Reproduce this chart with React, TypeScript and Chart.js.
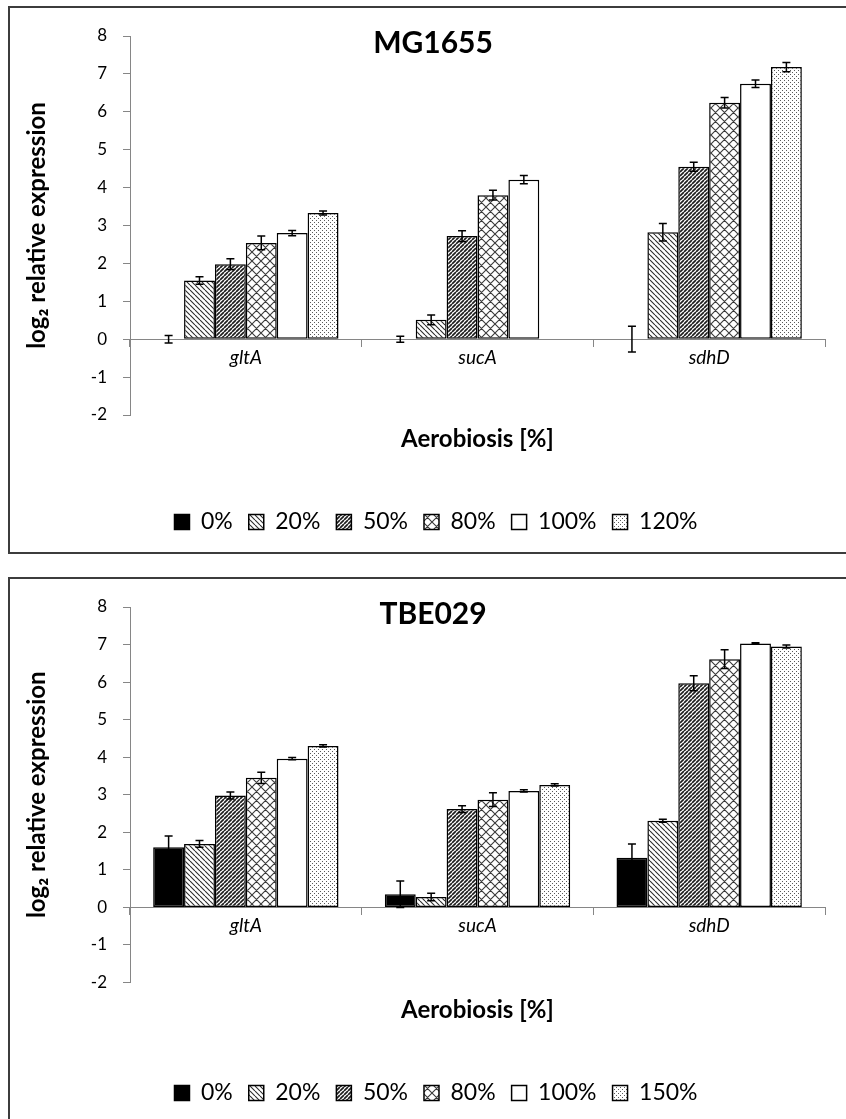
import React, { useEffect, useRef } from 'react';
import { Chart, registerables } from 'chart.js';

Chart.register(...registerables);

// ---------- data ----------
const categories = ['gltA', 'sucA', 'sdhD'];
const mgLevels = ['0%', '20%', '50%', '80%', '100%', '120%'];
const tbeLevels = ['0%', '20%', '50%', '80%', '100%', '150%'];

// MG1655 (values per aerobiosis level across gltA, sucA, sdhD)
const mg0 = [0, 0, 0];
const mg20 = [1.55, 0.51, 2.82];
const mg50 = [1.98, 2.72, 4.55];
const mg80 = [2.54, 3.8, 6.24];
const mg100 = [2.8, 4.21, 6.74];
const mg120 = [3.33, null, 7.18];
const mg0Err = [0.1, 0.08, 0.34];
const mg20Err = [0.1, 0.13, 0.23];
const mg50Err = [0.14, 0.14, 0.12];
const mg80Err = [0.18, 0.13, 0.14];
const mg100Err = [0.07, 0.11, 0.1];
const mg120Err = [0.05, null, 0.12];

// TBE029
const tbe0 = [1.6, 0.35, 1.32];
const tbe20 = [1.69, 0.28, 2.31];
const tbe50 = [2.98, 2.62, 5.97];
const tbe80 = [3.45, 2.87, 6.61];
const tbe100 = [3.96, 3.1, 7.03];
const tbe150 = [4.3, 3.26, 6.95];
const tbe0Err = [0.3, 0.35, 0.37];
const tbe20Err = [0.09, 0.1, 0.04];
const tbe50Err = [0.09, 0.09, 0.2];
const tbe80Err = [0.15, 0.18, 0.25];
const tbe100Err = [0.03, 0.03, 0.02];
const tbe150Err = [0.03, 0.03, 0.04];

const yTicks = { min: -2, max: 8, step: 1 };

const FONT = 'Lato, "Open Sans", "DejaVu Sans", sans-serif';
const patternKinds = ['solid', 'down', 'up', 'diamond', 'white', 'dots'];

function makePattern(kind: string): any {
  if (kind === 'solid') return '#000000';
  if (kind === 'white') return '#ffffff';
  const c = document.createElement('canvas');
  const ctx = c.getContext('2d')!;
  let s = 5;
  if (kind === 'up') s = 4;
  if (kind === 'diamond') s = 9;
  if (kind === 'dots') s = 4;
  c.width = s;
  c.height = s;
  ctx.fillStyle = '#ffffff';
  ctx.fillRect(0, 0, s, s);
  if (kind === 'down' || kind === 'up' || kind === 'diamond') {
    ctx.strokeStyle = kind === 'up' ? '#1e1e1e' : kind === 'diamond' ? '#3a3a3a' : '#2e2e2e';
    ctx.lineWidth = kind === 'up' ? 1.7 : 1.1;
    ctx.beginPath();
    for (let k = -1; k <= 1; k++) {
      if (kind === 'down' || kind === 'diamond') {
        ctx.moveTo(k * s, 0);
        ctx.lineTo(k * s + s, s);
      }
      if (kind === 'up' || kind === 'diamond') {
        ctx.moveTo(k * s, s);
        ctx.lineTo(k * s + s, 0);
      }
    }
    ctx.stroke();
  } else if (kind === 'dots') {
    ctx.fillStyle = '#5a5a5a';
    ctx.fillRect(0, 0, 1, 1);
    ctx.fillRect(2, 2, 1, 1);
  }
  return ctx.createPattern(c, 'repeat');
}

const errorBarPlugin = {
  id: 'errorBars',
  afterDatasetsDraw(chart: any) {
    const ctx = chart.ctx;
    const yScale = chart.scales.y;
    chart.data.datasets.forEach((ds: any, i: number) => {
      const meta = chart.getDatasetMeta(i);
      if (meta.hidden) return;
      meta.data.forEach((el: any, j: number) => {
        const v = ds.data[j];
        const e = ds.errors ? ds.errors[j] : null;
        if (v == null || e == null || !isFinite(el.x)) return;
        const x = el.x;
        const y1 = yScale.getPixelForValue(v + e);
        const y2 = yScale.getPixelForValue(v - e);
        ctx.save();
        ctx.strokeStyle = '#000';
        ctx.lineWidth = 1.5;
        ctx.beginPath();
        ctx.moveTo(x, y1);
        ctx.lineTo(x, y2);
        ctx.moveTo(x - 4, y1);
        ctx.lineTo(x + 4, y1);
        ctx.moveTo(x - 4, y2);
        ctx.lineTo(x + 4, y2);
        ctx.stroke();
        ctx.restore();
      });
    });
  },
};

const panelTitlePlugin = {
  id: 'panelTitle',
  afterDraw(chart: any, _args: any, opts: any) {
    if (!opts || !opts.text) return;
    const ctx = chart.ctx;
    ctx.save();
    ctx.font = `bold 30px ${FONT}`;
    ctx.fillStyle = '#000';
    ctx.textAlign = 'center';
    ctx.textBaseline = 'middle';
    ctx.fillText(opts.text, opts.x, opts.y);
    ctx.restore();
  },
};

interface PanelProps {
  top: number;
  height: number;
  title: string;
  levels: string[];
  values: (number | null)[][];
  errors: (number | null)[][];
  areaBottom: number;
}

function Panel({ top, height, title, levels, values, errors, areaBottom }: PanelProps) {
  const ref = useRef<HTMLCanvasElement>(null);
  useEffect(() => {
    if (!ref.current) return;
    const patterns = patternKinds.map(makePattern);
    const legendTop = 494.5;
    const legendH = 49;
    const x2Height = legendTop - areaBottom;
    const titleLH = 28.8;
    const padBot = 41.1;
    const padTop = x2Height - titleLH - padBot;
    const chart = new Chart(ref.current, {
      type: 'bar',
      data: {
        labels: categories,
        datasets: levels.map((lvl, i) => ({
          label: lvl,
          data: values[i],
          errors: errors[i],
          backgroundColor: patterns[i],
          borderColor: '#000',
          borderWidth: 1.5,
          borderSkipped: false,
          xAxisID: 'x',
          yAxisID: 'y',
          categoryPercentage: 0.8,
          barPercentage: 1.0,
        })) as any,
      },
      options: {
        animation: false,
        responsive: false,
        maintainAspectRatio: false,
        layout: { padding: { top: 36, bottom: 560 - legendTop - legendH, left: 0, right: 0 } },
        scales: {
          x: {
            type: 'category',
            position: { y: 0 } as any,
            offset: true,
            grid: { display: true, drawOnChartArea: false, drawTicks: true, tickLength: 7, color: '#868686', offset: true },
            border: { display: true, color: '#868686', width: 1 },
            ticks: { color: '#000', padding: 0, font: { family: FONT, size: 19, style: 'italic' } },
          },
          x2: {
            type: 'category',
            position: 'bottom',
            display: true,
            grid: { display: false, drawTicks: false, tickLength: 0 },
            border: { display: false },
            ticks: { display: false },
            title: {
              display: true,
              text: 'Aerobiosis [%]',
              color: '#000',
              font: { family: FONT, size: 24, weight: 'bold' },
              padding: { top: padTop, bottom: padBot },
            },
          },
          y: {
            type: 'linear',
            position: 'left',
            min: yTicks.min,
            max: yTicks.max,
            grid: { display: true, drawOnChartArea: false, drawTicks: true, tickLength: 7, color: '#868686' },
            border: { display: true, color: '#868686', width: 1 },
            ticks: { stepSize: yTicks.step, color: '#000', padding: 16, font: { family: FONT, size: 17 } },
            title: {
              display: true,
              text: 'log₂ relative expression',
              color: '#000',
              font: { family: FONT, size: 24, weight: 'bold' },
              padding: { top: 22.6, bottom: 0 },
            },
            afterFit: (s: any) => {
              s.width = 130;
            },
          },
          y2: {
            type: 'linear',
            position: 'right',
            display: true,
            grid: { display: false, drawTicks: false, tickLength: 0 },
            border: { display: false },
            ticks: { display: false },
            afterFit: (s: any) => {
              s.width = 47;
            },
          },
        },
        plugins: {
          legend: {
            display: true,
            position: 'bottom',
            labels: {
              boxWidth: 15,
              boxHeight: 15,
              padding: 16,
              color: '#000',
              font: { family: FONT, size: 23 },
            },
          },
          tooltip: { enabled: false },
          panelTitle: { text: title, x: 433, y: 43 },
        } as any,
      },
      plugins: [errorBarPlugin, panelTitlePlugin],
    } as any);
    return () => chart.destroy();
  }, []);

  return (
    <>
      <div
        style={{
          position: 'absolute',
          left: 8,
          top,
          width: 900,
          height,
          border: '2px solid #3c3c3c',
          boxSizing: 'border-box',
          background: '#fff',
        }}
      />
      <canvas
        ref={ref}
        width={872}
        height={560}
        style={{ position: 'absolute', left: 0, top: top - 6, width: 872, height: 560 }}
      />
    </>
  );
}

export default function App() {
  return (
    <div
      style={{
        position: 'absolute',
        left: 0,
        top: 0,
        width: 846,
        height: 1119,
        overflow: 'hidden',
        background: '#fff',
      }}
    >
      <Panel
        top={6}
        height={548}
        title="MG1655"
        levels={mgLevels}
        values={[mg0, mg20, mg50, mg80, mg100, mg120]}
        errors={[mg0Err, mg20Err, mg50Err, mg80Err, mg100Err, mg120Err]}
        areaBottom={415}
      />
      <Panel
        top={577}
        height={600}
        title="TBE029"
        levels={tbeLevels}
        values={[tbe0, tbe20, tbe50, tbe80, tbe100, tbe150]}
        errors={[tbe0Err, tbe20Err, tbe50Err, tbe80Err, tbe100Err, tbe150Err]}
        areaBottom={411.5}
      />
    </div>
  );
}
